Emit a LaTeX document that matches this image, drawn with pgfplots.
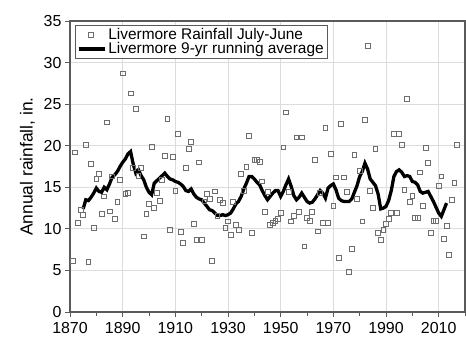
\documentclass[border=0pt]{standalone}
\usepackage{pgfplots}
\pgfplotsset{compat=1.18}
\usepackage{pgfplotstable}
\usepackage{fontspec}
\setmainfont{Liberation Sans}
\definecolor{mkgray}{HTML}{6E6E6E}
\definecolor{gridgray}{HTML}{DCDCDC}
\definecolor{framegray}{HTML}{5A5A5A}
\pgfplotstableread{
year rain
1871 6.1
1872 19.2
1873 10.7
1874 12.3
1875 11.7
1876 20.1
1877 6.0
1878 17.8
1879 10.1
1880 16.0
1881 16.6
1882 11.8
1883 13.9
1884 22.8
1885 12.1
1886 16.3
1887 11.2
1888 13.2
1889 15.9
1890 28.7
1891 14.2
1892 14.3
1893 26.3
1894 17.3
1895 24.4
1896 16.4
1897 17.3
1898 9.1
1899 11.8
1900 13.0
1901 19.9
1902 12.5
1903 14.3
1904 13.4
1905 15.9
1906 18.8
1907 23.2
1908 9.9
1909 18.7
1910 14.6
1911 21.4
1912 9.6
1913 8.3
1914 17.3
1915 19.6
1916 20.5
1917 10.6
1918 8.7
1919 18.0
1920 8.7
1921 13.3
1922 14.2
1923 13.6
1924 6.1
1925 14.5
1926 11.6
1927 13.5
1928 13.1
1929 10.1
1930 10.9
1931 9.3
1932 13.2
1933 10.5
1934 9.9
1935 16.6
1936 14.6
1937 17.5
1938 21.2
1939 9.5
1940 18.3
1941 18.3
1942 18.1
1943 15.7
1944 12.0
1945 14.4
1946 10.5
1947 10.7
1948 11.0
1949 11.2
1950 11.9
1951 19.8
1952 24.0
1953 14.4
1954 10.9
1955 11.6
1956 21.0
1957 12.0
1958 21.0
1959 7.9
1960 11.3
1961 11.0
1962 12.0
1963 18.3
1964 9.7
1965 14.3
1966 10.7
1967 22.1
1968 10.7
1969 19.0
1970 12.8
1971 16.2
1972 6.5
1973 22.6
1974 16.2
1975 14.4
1976 4.8
1977 7.6
1978 18.9
1979 13.6
1980 17.0
1981 10.9
1982 23.1
1983 32.0
1984 14.6
1985 12.5
1986 19.6
1987 9.5
1988 8.7
1989 9.9
1990 10.6
1991 11.2
1992 11.9
1993 21.4
1994 11.9
1995 21.4
1996 20.1
1997 14.7
1998 25.6
1999 13.2
2000 14.0
2001 11.3
2002 11.3
2003 16.8
2004 12.8
2005 19.7
2006 17.9
2007 9.5
2008 11.0
2009 11.0
2010 15.2
2011 16.3
2012 8.8
2013 10.4
2014 6.9
2015 13.5
2016 15.5
2017 20.1
}\rain
\pgfplotstableread{
year avg
1875 12.4
1876 13.5
1877 13.4
1878 13.8
1879 14.3
1880 14.9
1881 14.5
1882 14.4
1883 15.0
1884 14.7
1885 15.4
1886 16.2
1887 16.5
1888 16.9
1889 17.5
1890 18.0
1891 18.4
1892 19.0
1893 19.3
1894 17.8
1895 16.7
1896 17.1
1897 16.4
1898 15.9
1899 15.0
1900 14.4
1901 14.1
1902 15.5
1903 15.8
1904 16.1
1905 16.4
1906 16.7
1907 16.3
1908 16.0
1909 15.9
1910 15.7
1911 15.6
1912 15.4
1913 15.1
1914 14.6
1915 14.5
1916 14.8
1917 14.2
1918 13.8
1919 13.6
1920 13.5
1921 13.1
1922 12.7
1923 12.3
1924 12.2
1925 11.9
1926 11.6
1927 11.6
1928 11.7
1929 11.6
1930 11.7
1931 11.9
1932 12.4
1933 13.0
1934 13.3
1935 13.9
1936 14.8
1937 15.5
1938 16.3
1939 16.3
1940 16.0
1941 15.6
1942 15.3
1943 14.6
1944 14.0
1945 13.5
1946 13.9
1947 14.3
1948 14.6
1949 14.6
1950 13.9
1951 14.5
1952 15.3
1953 16.0
1954 15.1
1955 14.0
1956 13.5
1957 13.8
1958 14.3
1959 13.8
1960 13.3
1961 13.1
1962 13.2
1963 13.6
1964 14.1
1965 14.6
1966 14.3
1967 13.7
1968 14.9
1969 15.2
1970 15.4
1971 14.7
1972 13.7
1973 13.4
1974 13.3
1975 13.3
1976 13.3
1977 13.6
1978 14.4
1979 15.2
1980 16.3
1981 16.9
1982 17.9
1983 17.2
1984 16.0
1985 15.6
1986 15.2
1987 14.2
1988 12.4
1989 12.5
1990 12.7
1991 13.4
1992 14.6
1993 16.3
1994 16.9
1995 17.1
1996 16.8
1997 16.3
1998 16.4
1999 16.3
2000 15.7
2001 15.6
2002 15.3
2003 14.5
2004 14.3
2005 14.4
2006 14.5
2007 13.9
2008 13.3
2009 12.6
2010 11.9
2011 11.5
2012 12.3
2013 13.1
}\avg
\begin{document}
\begin{tikzpicture}
\begin{axis}[
  name=ax,
  scale only axis,
  width=395bp, height=291bp,
  xmin=1870, xmax=2020,
  ymin=0, ymax=35,
  xtick={1870,1890,...,2010},
  minor xtick={1880,1900,...,2020},
  ytick={0,5,...,35},
  /pgf/number format/1000 sep={},
  /pgf/number format/assume math mode=true,
  tick align=outside,
  tick pos=left,
  major tick length=5bp,
  minor tick length=4bp,
  every tick/.style={framegray, line width=1pt},
  grid=major,
  major grid style={gridgray, line width=0.9pt},
  axis line style={framegray, line width=1.5pt},
  ticklabel style={font=\fontsize{16}{18}\selectfont},
  xticklabel style={yshift=-2bp},
  ylabel={Annual rainfall, in.},
  ylabel style={font=\fontsize{17.5}{19}\selectfont, yshift=2bp},
  legend cell align=left,
  legend style={at={(rel axis cs:0.013,0.986)}, anchor=north west,
    draw=framegray, line width=0.8pt, font=\fontsize{15.5}{18}\selectfont,
    row sep=-2.5bp, inner xsep=1.5bp, inner ysep=1bp},
]
\addplot[only marks, mark=square, mark size=2.4bp, mkgray, line width=0.8pt,
  legend image code/.code={\draw[mkgray, line width=0.8pt] plot[mark=square, mark size=2.4bp] coordinates {(16bp,0bp)};}]
  table[x=year,y=rain] {\rain};
\addlegendentry{Livermore Rainfall July-June}
\addplot[black, line width=3.3pt, mark=none,
  legend image code/.code={\draw[black, line width=3.3pt] (4bp,0bp) -- (30bp,0bp);}]
  table[x=year,y=avg] {\avg};
\addlegendentry{Livermore 9-yr running average}
\end{axis}
\path ([xshift=-70bp,yshift=-29bp]ax.south west) rectangle ([xshift=1bp,yshift=21bp]ax.north east);
\end{tikzpicture}
\end{document}
